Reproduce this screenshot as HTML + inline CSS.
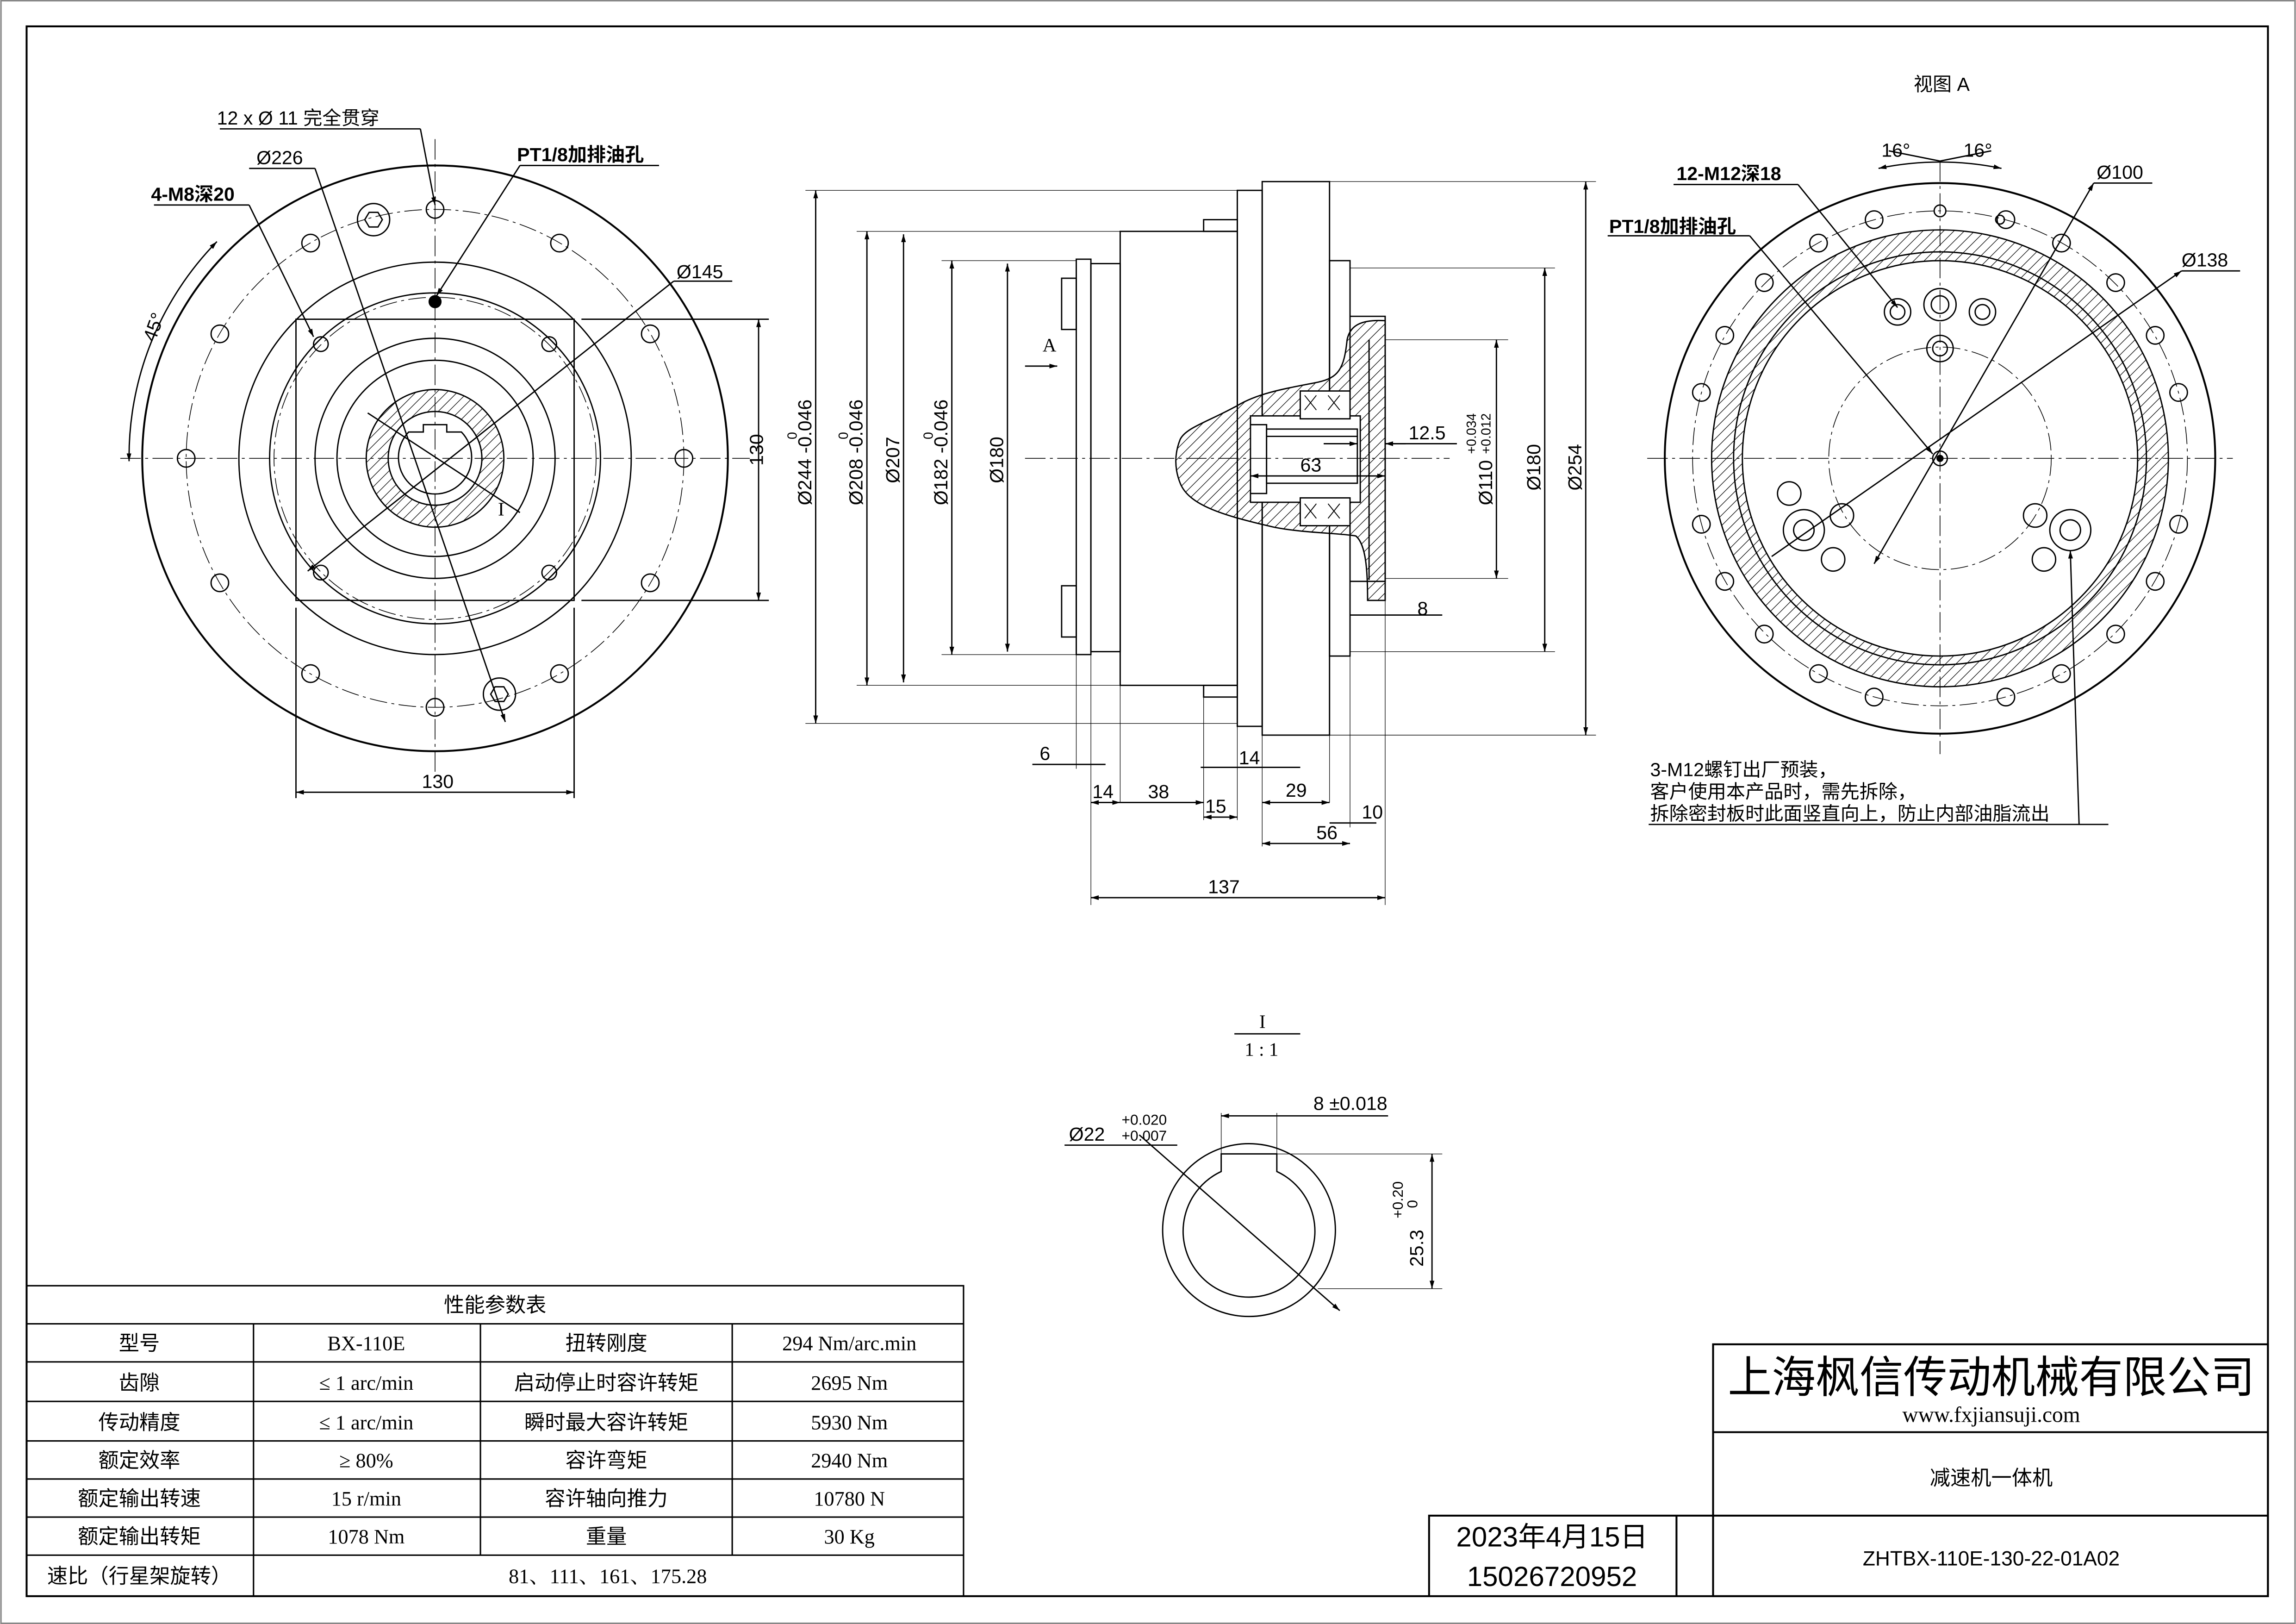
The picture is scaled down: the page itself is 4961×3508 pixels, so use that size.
<!DOCTYPE html>
<html><head><meta charset="utf-8"><style>
html,body{margin:0;padding:0;background:#fff}
svg{display:block}
text{font-family:"Liberation Sans","Noto Sans CJK SC",sans-serif;fill:#000}
.s{font-family:"Liberation Serif","Noto Serif CJK SC",serif}
</style></head><body>
<svg width="4961" height="3508" viewBox="0 0 1568 1109" xmlns="http://www.w3.org/2000/svg">
<defs>
<pattern id="h" width="5" height="5" patternUnits="userSpaceOnUse" patternTransform="rotate(45)"><line x1="0" y1="0" x2="0" y2="5" stroke="#000" stroke-width="0.8"/></pattern>
<marker id="a" viewBox="0 0 10 10" refX="10" refY="5" markerWidth="6" markerHeight="6" orient="auto-start-reverse"><path d="M0,2L10,5L0,8z" fill="#000"/></marker>
</defs>
<rect width="1568" height="1109" fill="#fff"/>
<rect x="0.5" y="0.5" width="1567" height="1108" fill="none" stroke="#888" stroke-width="1"/>
<g fill="none" stroke="#000" stroke-width="0.9">
<rect x="18" y="18" width="1531" height="1072" stroke-width="1.3"/>
<!-- LEFT VIEW -->
<g>
<circle cx="297" cy="313" r="200" stroke-width="1.3"/>
<circle cx="297" cy="313" r="170" stroke-dasharray="12 3 2 3" stroke-width="0.5"/>
<circle cx="297" cy="313" r="134"/>
<circle cx="297" cy="313" r="113"/>
<circle cx="297" cy="313" r="110" stroke-dasharray="12 3 2 3" stroke-width="0.5"/>
<rect x="202" y="218" width="190" height="192"/>
<circle cx="297" cy="313" r="82"/>
<circle cx="297" cy="313" r="67"/>
<circle cx="297" cy="313" r="47" fill="url(#h)"/>
<circle cx="297" cy="313" r="32" fill="#fff"/>
<path d="M279,295 A25,25 0 1 0 315,295 L305,295 L305,290 L289,290 L289,295 Z" fill="#fff"/>
<line x1="82" y1="313" x2="512" y2="313" stroke-dasharray="14 3 2 3" stroke-width="0.5"/>
<line x1="297" y1="95" x2="297" y2="530" stroke-dasharray="14 3 2 3" stroke-width="0.5"/>
<circle cx="467" cy="313" r="6"/><circle cx="127" cy="313" r="6"/><circle cx="297" cy="143" r="6"/><circle cx="297" cy="483" r="6"/>
<circle cx="444" cy="228" r="6"/><circle cx="150" cy="228" r="6"/><circle cx="444" cy="398" r="6"/><circle cx="150" cy="398" r="6"/>
<circle cx="212" cy="166" r="6"/><circle cx="382" cy="166" r="6"/><circle cx="212" cy="460" r="6"/><circle cx="382" cy="460" r="6"/>
<circle cx="219" cy="235" r="5"/><circle cx="375" cy="235" r="5"/><circle cx="219" cy="391" r="5"/><circle cx="375" cy="391" r="5"/>
<circle cx="255" cy="150" r="11"/><path d="M249,150 l3,-5 h6 l3,5 l-3,5 h-6z"/>
<circle cx="341" cy="474" r="11"/><path d="M335,474 l3,-5 h6 l3,5 l-3,5 h-6z"/>
<circle cx="297" cy="206" r="4" fill="#000"/>
<line x1="202" y1="415" x2="202" y2="545"/><line x1="392" y1="415" x2="392" y2="545"/>
<line x1="202" y1="541" x2="392" y2="541" marker-start="url(#a)" marker-end="url(#a)"/>
<line x1="397" y1="218" x2="525" y2="218"/><line x1="397" y1="410" x2="525" y2="410"/>
<line x1="518" y1="218" x2="518" y2="410" marker-start="url(#a)" marker-end="url(#a)"/>
<path d="M88,315 A210,210 0 0 1 148,165" marker-start="url(#a)" marker-end="url(#a)"/>
<line x1="150" y1="88" x2="287" y2="88"/><line x1="287" y1="88" x2="297" y2="140" marker-end="url(#a)"/>
<line x1="170" y1="115" x2="215" y2="115"/><line x1="215" y1="115" x2="345" y2="493" marker-end="url(#a)"/>
<line x1="105" y1="140" x2="170" y2="140"/><line x1="170" y1="140" x2="214" y2="230" marker-end="url(#a)"/>
<line x1="355" y1="113" x2="450" y2="113"/><line x1="355" y1="113" x2="298" y2="202" marker-end="url(#a)"/>
<line x1="460" y1="192" x2="500" y2="192"/><line x1="460" y1="192" x2="210" y2="390" marker-end="url(#a)"/>
<line x1="251" y1="282" x2="355" y2="350"/>
</g>
<!-- MIDDLE VIEW -->
<g>
<rect x="735" y="177" width="10" height="270"/>
<rect x="745" y="180" width="20" height="265"/>
<rect x="765" y="158" width="80" height="310"/>
<rect x="845" y="130" width="17" height="366"/>
<rect x="862" y="124" width="46" height="378"/>
<rect x="908" y="178" width="14" height="270"/>
<rect x="725" y="190" width="10" height="35"/><rect x="725" y="400" width="10" height="35"/>
<rect x="822" y="150" width="23" height="8"/><rect x="822" y="468" width="23" height="8"/>
<path d="M922,216 L946,216 L946,397 L922,397"/>
<line x1="935" y1="232" x2="935" y2="396"/>
<path d="M946,219 C930,218 922,222 920,232 C918,252 914,258 900,261 C880,265 860,268 845,277 C825,288 810,292 806,300 C802,310 802,320 806,330 C812,345 835,352 870,360 C890,364 915,364 926,366 C933,372 934,390 934,410 L946,410 L946,219Z" fill="url(#h)"/>
<rect x="854" y="284" width="75" height="59" fill="#fff"/>
<rect x="854" y="290" width="11" height="47" fill="#fff"/>
<rect x="865" y="293" width="62" height="37" fill="#fff"/>
<line x1="865" y1="298" x2="927" y2="298"/>
<rect x="888" y="267" width="34" height="19" fill="#fff"/><rect x="888" y="340" width="34" height="19" fill="#fff"/>
<path d="M891,270 l8,10 m0,-10 l-8,10 M907,270 l8,10 m0,-10 l-8,10 M891,344 l8,10 m0,-10 l-8,10 M907,344 l8,10 m0,-10 l-8,10" stroke-width="0.6"/>
<line x1="700" y1="313" x2="990" y2="313" stroke-dasharray="14 3 2 3" stroke-width="0.5"/>
<line x1="550" y1="130" x2="845" y2="130" stroke-width="0.4"/><line x1="550" y1="494" x2="845" y2="494" stroke-width="0.4"/>
<line x1="557" y1="130" x2="557" y2="494" marker-start="url(#a)" marker-end="url(#a)"/>
<line x1="585" y1="158" x2="765" y2="158" stroke-width="0.4"/><line x1="585" y1="468" x2="765" y2="468" stroke-width="0.4"/>
<line x1="592" y1="158" x2="592" y2="468" marker-start="url(#a)" marker-end="url(#a)"/>
<line x1="617" y1="160" x2="617" y2="466" marker-start="url(#a)" marker-end="url(#a)"/>
<line x1="643" y1="178" x2="735" y2="178" stroke-width="0.4"/><line x1="643" y1="447" x2="735" y2="447" stroke-width="0.4"/>
<line x1="650" y1="178" x2="650" y2="447" marker-start="url(#a)" marker-end="url(#a)"/>
<line x1="688" y1="180" x2="688" y2="445" marker-start="url(#a)" marker-end="url(#a)"/>
<line x1="908" y1="124" x2="1090" y2="124" stroke-width="0.4"/><line x1="908" y1="502" x2="1090" y2="502" stroke-width="0.4"/>
<line x1="1083" y1="124" x2="1083" y2="502" marker-start="url(#a)" marker-end="url(#a)"/>
<line x1="922" y1="183" x2="1062" y2="183" stroke-width="0.4"/><line x1="922" y1="445" x2="1062" y2="445" stroke-width="0.4"/>
<line x1="1055" y1="183" x2="1055" y2="445" marker-start="url(#a)" marker-end="url(#a)"/>
<line x1="946" y1="232" x2="1030" y2="232" stroke-width="0.4"/><line x1="946" y1="395" x2="1030" y2="395" stroke-width="0.4"/>
<line x1="1022" y1="232" x2="1022" y2="395" marker-start="url(#a)" marker-end="url(#a)"/>
<line x1="904" y1="303" x2="927" y2="303" marker-end="url(#a)"/>
<line x1="960" y1="303" x2="946" y2="303" marker-end="url(#a)"/>
<line x1="946" y1="303" x2="995" y2="303"/>
<line x1="854" y1="325" x2="946" y2="325" marker-start="url(#a)" marker-end="url(#a)"/>
<line x1="922" y1="420" x2="985" y2="420"/>
<line x1="700" y1="250" x2="722" y2="250" marker-end="url(#a)"/>
<line x1="735" y1="447" x2="735" y2="525" stroke-width="0.4"/>
<line x1="745" y1="447" x2="745" y2="618" stroke-width="0.4"/>
<line x1="765" y1="468" x2="765" y2="548" stroke-width="0.4"/>
<line x1="822" y1="476" x2="822" y2="560" stroke-width="0.4"/>
<line x1="845" y1="496" x2="845" y2="560" stroke-width="0.4"/>
<line x1="862" y1="502" x2="862" y2="578" stroke-width="0.4"/>
<line x1="908" y1="502" x2="908" y2="548" stroke-width="0.4"/>
<line x1="922" y1="448" x2="922" y2="565" stroke-width="0.4"/>
<line x1="946" y1="410" x2="946" y2="618" stroke-width="0.4"/>
<line x1="705" y1="522" x2="755" y2="522"/>
<line x1="745" y1="548" x2="765" y2="548" marker-start="url(#a)" marker-end="url(#a)"/>
<line x1="765" y1="548" x2="822" y2="548" marker-end="url(#a)"/>
<line x1="822" y1="558" x2="845" y2="558" marker-start="url(#a)" marker-end="url(#a)"/>
<line x1="820" y1="524" x2="888" y2="524"/>
<line x1="862" y1="548" x2="908" y2="548" marker-start="url(#a)" marker-end="url(#a)"/>
<line x1="908" y1="562" x2="940" y2="562"/>
<line x1="862" y1="576" x2="922" y2="576" marker-start="url(#a)" marker-end="url(#a)"/>
<line x1="745" y1="613" x2="946" y2="613" marker-start="url(#a)" marker-end="url(#a)"/>
</g>
<!-- RIGHT VIEW -->
<g>
<circle cx="1325" cy="313" r="188" stroke-width="1.3"/>
<circle cx="1325" cy="313" r="169" stroke-dasharray="12 3 2 3" stroke-width="0.5"/>
<circle cx="1325" cy="313" r="156" fill="url(#h)"/>
<circle cx="1325" cy="313" r="135" fill="#fff"/>
<circle cx="1325" cy="313" r="141"/>
<circle cx="1325" cy="313" r="76" stroke-dasharray="12 3 2 3" stroke-width="0.5"/>
<line x1="1125" y1="313" x2="1525" y2="313" stroke-dasharray="14 3 2 3" stroke-width="0.5"/>
<line x1="1325" y1="110" x2="1325" y2="515" stroke-dasharray="14 3 2 3" stroke-width="0.5"/>
<circle cx="1370" cy="150" r="6"/><circle cx="1280" cy="150" r="6"/>
<circle cx="1445" cy="193" r="6"/><circle cx="1205" cy="193" r="6"/>
<circle cx="1488" cy="268" r="6"/><circle cx="1162" cy="268" r="6"/>
<circle cx="1488" cy="358" r="6"/><circle cx="1162" cy="358" r="6"/>
<circle cx="1445" cy="433" r="6"/><circle cx="1205" cy="433" r="6"/>
<circle cx="1370" cy="476" r="6"/><circle cx="1280" cy="476" r="6"/>
<circle cx="1408" cy="166" r="6"/><circle cx="1242" cy="166" r="6"/>
<circle cx="1472" cy="229" r="6"/><circle cx="1178" cy="229" r="6"/>
<circle cx="1472" cy="397" r="6"/><circle cx="1178" cy="397" r="6"/>
<circle cx="1408" cy="460" r="6"/><circle cx="1242" cy="460" r="6"/>
<circle cx="1325" cy="144" r="4"/><circle cx="1366" cy="150" r="3"/>
<circle cx="1325" cy="208" r="11"/><circle cx="1325" cy="208" r="6"/>
<circle cx="1296" cy="213" r="9"/><circle cx="1296" cy="213" r="5"/>
<circle cx="1354" cy="213" r="9"/><circle cx="1354" cy="213" r="5"/>
<circle cx="1325" cy="238" r="9"/><circle cx="1325" cy="238" r="5"/>
<circle cx="1232" cy="362" r="14"/><circle cx="1232" cy="362" r="7"/>
<circle cx="1414" cy="362" r="14"/><circle cx="1414" cy="362" r="7"/>
<circle cx="1222" cy="337" r="8"/><circle cx="1258" cy="352" r="8"/><circle cx="1252" cy="382" r="8"/>
<circle cx="1390" cy="352" r="8"/><circle cx="1396" cy="382" r="8"/>
<circle cx="1325" cy="313" r="5"/><circle cx="1325" cy="313" r="2" fill="#000"/>
<line x1="1290" y1="103" x2="1325" y2="110"/><line x1="1360" y1="103" x2="1325" y2="110"/>
<path d="M1283,115 A205,205 0 0 1 1367,115" marker-start="url(#a)" marker-end="url(#a)"/>
<line x1="1143" y1="126" x2="1228" y2="126"/><line x1="1228" y1="126" x2="1296" y2="210" marker-end="url(#a)"/>
<line x1="1098" y1="161" x2="1195" y2="161"/><line x1="1195" y1="161" x2="1320" y2="310" marker-end="url(#a)"/>
<line x1="1430" y1="125" x2="1470" y2="125"/><line x1="1430" y1="125" x2="1280" y2="385" marker-start="url(#a)" marker-end="url(#a)"/>
<line x1="1490" y1="185" x2="1530" y2="185"/><line x1="1490" y1="185" x2="1210" y2="380" marker-start="url(#a)"/>
<line x1="1126" y1="563" x2="1440" y2="563"/><line x1="1420" y1="563" x2="1414" y2="376" marker-end="url(#a)"/>
</g>
<!-- DETAIL -->
<g>
<circle cx="853" cy="840" r="59"/>
<path d="M834,800 A45,45 0 1 0 872,800 L872,788 L834,788 Z"/>
<line x1="778" y1="775" x2="915" y2="895" marker-end="url(#a)"/>
<line x1="727" y1="782" x2="804" y2="782"/>
<line x1="834" y1="788" x2="834" y2="760" stroke-width="0.4"/><line x1="872" y1="788" x2="872" y2="760" stroke-width="0.4"/>
<line x1="834" y1="762" x2="948" y2="762" marker-start="url(#a)"/>
<line x1="872" y1="788" x2="985" y2="788" stroke-width="0.4"/><line x1="900" y1="880" x2="985" y2="880" stroke-width="0.4"/>
<line x1="978" y1="788" x2="978" y2="880" marker-start="url(#a)" marker-end="url(#a)"/>
<line x1="843" y1="706" x2="888" y2="706"/>
</g>
<!-- TABLE -->
<g stroke-width="1">
<rect x="18" y="878" width="640" height="212"/>
<line x1="18" y1="904" x2="658" y2="904"/><line x1="18" y1="930" x2="658" y2="930"/><line x1="18" y1="957" x2="658" y2="957"/><line x1="18" y1="984" x2="658" y2="984"/><line x1="18" y1="1010" x2="658" y2="1010"/><line x1="18" y1="1036" x2="658" y2="1036"/><line x1="18" y1="1062" x2="658" y2="1062"/>
<line x1="173" y1="904" x2="173" y2="1090"/><line x1="328" y1="904" x2="328" y2="1062"/><line x1="500" y1="904" x2="500" y2="1062"/>
</g>
<g stroke-width="1.3">
<rect x="1170" y="918" width="379" height="172"/>
<line x1="1170" y1="978" x2="1549" y2="978"/><line x1="1170" y1="1035" x2="1549" y2="1035"/>
<polyline points="976,1090 976,1035 1170,1035"/><line x1="1145" y1="1035" x2="1145" y2="1090"/>
</g>
</g>
<g font-size="13">
<text x="148" y="85">12 x Ø 11 完全贯穿</text>
<text x="175" y="112">Ø226</text>
<text x="103" y="137" font-weight="bold">4-M8深20</text>
<text x="353" y="110" font-weight="bold">PT1/8加排油孔</text>
<text x="462" y="190">Ø145</text>
<text x="288" y="538">130</text>
<text x="514" y="325" transform="rotate(-90 514 318)">130</text>
<text x="100" y="238" transform="rotate(-70 100 232)">45°</text>
<text class="s" x="340" y="352">I</text>
<text class="s" x="712" y="240">A</text>
<text x="554" y="345" transform="rotate(-90 554 345)">Ø244 -0.046</text><text x="544" y="300" font-size="9" transform="rotate(-90 544 300)">0</text>
<text x="589" y="345" transform="rotate(-90 589 345)">Ø208 -0.046</text><text x="579" y="300" font-size="9" transform="rotate(-90 579 300)">0</text>
<text x="614" y="330" transform="rotate(-90 614 330)">Ø207</text>
<text x="647" y="345" transform="rotate(-90 647 345)">Ø182 -0.046</text><text x="637" y="300" font-size="9" transform="rotate(-90 637 300)">0</text>
<text x="685" y="330" transform="rotate(-90 685 330)">Ø180</text>
<text x="1080" y="335" transform="rotate(-90 1080 335)">Ø254</text>
<text x="1052" y="335" transform="rotate(-90 1052 335)">Ø180</text>
<text x="1019" y="345" transform="rotate(-90 1019 345)">Ø110</text>
<text x="1008" y="310" font-size="9" transform="rotate(-90 1008 310)">+0.034</text><text x="1018" y="310" font-size="9" transform="rotate(-90 1018 310)">+0.012</text>
<text x="962" y="300">12.5</text><text x="888" y="322">63</text><text x="968" y="420">8</text>
<text x="710" y="519">6</text><text x="746" y="545">14</text><text x="784" y="545">38</text><text x="823" y="555">15</text><text x="846" y="522">14</text><text x="878" y="544">29</text><text x="930" y="559">10</text><text x="899" y="573">56</text><text x="825" y="610">137</text>
<text x="1307" y="62">视图 A</text>
<text x="1285" y="107">16°</text><text x="1341" y="107">16°</text>
<text x="1145" y="123" font-weight="bold">12-M12深18</text>
<text x="1099" y="159" font-weight="bold">PT1/8加排油孔</text>
<text x="1432" y="122">Ø100</text><text x="1490" y="182">Ø138</text>
<text x="1127" y="530">3-M12螺钉出厂预装，</text>
<text x="1127" y="545">客户使用本产品时，需先拆除，</text>
<text x="1127" y="560">拆除密封板时此面竖直向上，防止内部油脂流出</text>
<text class="s" x="860" y="702">I</text><text class="s" x="850" y="721">1 : 1</text>
<text x="730" y="779">Ø22</text><text x="766" y="768" font-size="10">+0.020</text><text x="766" y="779" font-size="10">+0.007</text>
<text x="897" y="758">8 ±0.018</text>
<text x="972" y="865" transform="rotate(-90 972 865)">25.3</text>
<text x="958" y="832" font-size="10" transform="rotate(-90 958 832)">+0.20</text><text x="968" y="825" font-size="10" transform="rotate(-90 968 825)">0</text>
</g>
<g font-size="14" text-anchor="middle">
<text x="338" y="896">性能参数表</text>
<text x="95" y="922">型号</text><text class="s" x="250" y="922">BX-110E</text><text x="414" y="922">扭转刚度</text><text class="s" x="580" y="922">294 Nm/arc.min</text>
<text x="95" y="949">齿隙</text><text class="s" x="250" y="949">≤ 1 arc/min</text><text x="414" y="949">启动停止时容许转矩</text><text class="s" x="580" y="949">2695 Nm</text>
<text x="95" y="976">传动精度</text><text class="s" x="250" y="976">≤ 1 arc/min</text><text x="414" y="976">瞬时最大容许转矩</text><text class="s" x="580" y="976">5930 Nm</text>
<text x="95" y="1002">额定效率</text><text class="s" x="250" y="1002">≥ 80%</text><text x="414" y="1002">容许弯矩</text><text class="s" x="580" y="1002">2940 Nm</text>
<text x="95" y="1028">额定输出转速</text><text class="s" x="250" y="1028">15 r/min</text><text x="414" y="1028">容许轴向推力</text><text class="s" x="580" y="1028">10780 N</text>
<text x="95" y="1054">额定输出转矩</text><text class="s" x="250" y="1054">1078 Nm</text><text x="414" y="1054">重量</text><text class="s" x="580" y="1054">30 Kg</text>
<text x="95" y="1081">速比（行星架旋转）</text><text class="s" x="415" y="1081">81、111、161、175.28</text>
<text x="1360" y="951" font-size="30">上海枫信传动机械有限公司</text>
<text x="1360" y="971" font-size="15" class="s">www.fxjiansuji.com</text>
<text x="1360" y="1014">减速机一体机</text>
<text x="1360" y="1069">ZHTBX-110E-130-22-01A02</text>
<text x="1060" y="1056" font-size="19">2023年4月15日</text>
<text x="1060" y="1083" font-size="19">15026720952</text>
</g>
</svg>
</body></html>
